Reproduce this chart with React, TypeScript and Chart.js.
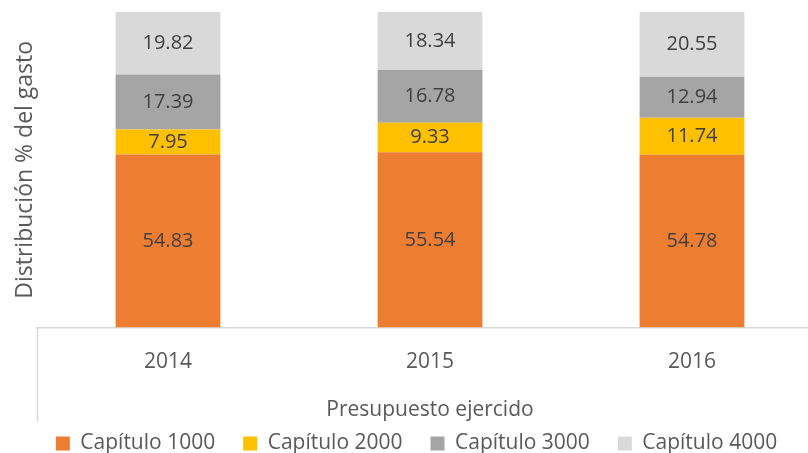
import React, { useEffect, useRef } from "react";
import { Chart, registerables } from "chart.js";

Chart.register(...registerables);

const categories = ["2014", "2015", "2016"];
const seriesNames = ["Capítulo 1000", "Capítulo 2000", "Capítulo 3000", "Capítulo 4000"];
const capitulo1000 = [54.83, 55.54, 54.78];
const capitulo2000 = [7.95, 9.33, 11.74];
const capitulo3000 = [17.39, 16.78, 12.94];
const capitulo4000 = [19.82, 18.34, 20.55];
const seriesColors = ["#ED7D31", "#FFC000", "#A5A5A5", "#D9D9D9"];
const yAxisTitle = "Distribución % del gasto";
const xAxisTitle = "Presupuesto ejercido";

const FONT = "'Open Sans', sans-serif";
const TEXT = "#595959";

const valueLabels = {
  id: "valueLabels",
  afterDatasetsDraw(chart: any) {
    const ctx = chart.ctx;
    ctx.save();
    ctx.font = `20px ${FONT}`;
    ctx.fillStyle = "#404040";
    ctx.textAlign = "center";
    ctx.textBaseline = "middle";
    chart.data.datasets.forEach((ds: any, di: number) => {
      const meta = chart.getDatasetMeta(di);
      meta.data.forEach((el: any, i: number) => {
        const { x, y, base } = el.getProps(["x", "y", "base"], true);
        ctx.fillText(Number(ds.data[i]).toFixed(2), x, (y + base) / 2);
      });
    });
    ctx.restore();
  },
};

const categoryEdge = {
  id: "categoryEdge",
  afterDraw(chart: any) {
    const { ctx, chartArea } = chart;
    ctx.save();
    ctx.strokeStyle = "#D9D9D9";
    ctx.lineWidth = 1.5;
    ctx.beginPath();
    ctx.moveTo(chartArea.left + 0.5, chartArea.bottom);
    ctx.lineTo(chartArea.left + 0.5, chartArea.bottom + 94);
    ctx.stroke();
    ctx.restore();
  },
};

export default function App() {
  const ref = useRef<HTMLCanvasElement | null>(null);

  useEffect(() => {
    document.body.style.margin = "0";
    document.body.style.overflow = "hidden";
    const values = [capitulo1000, capitulo2000, capitulo3000, capitulo4000];
    const chart = new Chart(ref.current as HTMLCanvasElement, {
      type: "bar",
      data: {
        labels: categories,
        datasets: seriesNames.map((name, i) => ({
          label: name,
          data: values[i],
          backgroundColor: seriesColors[i],
          borderColor: seriesColors[i],
          borderWidth: 0,
          categoryPercentage: 1,
          barPercentage: 0.4,
        })),
      },
      options: {
        animation: false,
        responsive: false,
        devicePixelRatio: 1,
        layout: { padding: { top: 12, left: 10, right: 11, bottom: 0 } },
        plugins: {
          tooltip: { enabled: false },
          legend: {
            position: "bottom",
            labels: {
              font: { family: FONT, size: 21 },
              color: TEXT,
              boxWidth: 14,
              boxHeight: 14,
              padding: 28,
            },
          },
        },
        scales: {
          x: {
            stacked: true,
            grid: { display: false, drawTicks: false },
            border: { display: true, color: "#D9D9D9", width: 1.5 },
            ticks: { padding: 22, color: TEXT, font: { family: FONT, size: 21 } },
            title: {
              display: true,
              text: xAxisTitle,
              color: TEXT,
              font: { family: FONT, size: 21 },
              padding: { top: 1, bottom: -18 },
            },
          },
          y: {
            stacked: true,
            min: 0,
            max: 100,
            grid: { display: false, drawTicks: false },
            border: { display: false },
            ticks: { display: false },
            title: {
              display: true,
              text: yAxisTitle,
              color: TEXT,
              font: { family: FONT, size: 23, lineHeight: 1 },
              padding: { top: 4, bottom: 0 },
            },
          },
        },
      },
      plugins: [valueLabels, categoryEdge],
    });
    return () => chart.destroy();
  }, []);

  return (
    <div style={{ width: 834, height: 464, position: "relative" }}>
      <canvas ref={ref} width={834} height={464} />
    </div>
  );
}
